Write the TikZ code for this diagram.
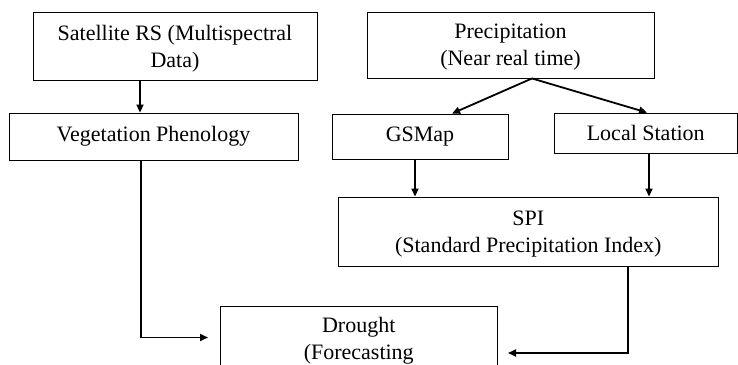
\documentclass[tikz,border=0pt]{standalone}
\usepackage{fontspec}
\setmainfont{Liberation Serif}
\usetikzlibrary{arrows.meta}

\tikzset{
  box/.style={draw=black, line width=0.9pt, align=center, inner sep=0pt,
    font=\fontsize{22}{27}\selectfont},
  twoline/.style={text depth=0pt},
  flow/.style={line width=1.8pt, -{Triangle[length=8pt,width=7pt]}},
}

\begin{document}
\begin{tikzpicture}[x=1pt, y=-1pt]
  % page frame
  \clip (0,0) rectangle (738,364);
  \fill[white] (0,0) rectangle (738,364);

  % left branch: remote sensing
  \node[box, twoline, minimum width=284pt, minimum height=68pt] (sat) at (175,46)
    {Satellite RS (Multispectral\\Data)};
  \node[box, minimum width=289pt, minimum height=47pt] (veg) at (153.5,136.5)
    {Vegetation Phenology};

  % right branch: precipitation
  \node[box, twoline, minimum width=287pt, minimum height=66pt] (pre) at (510.5,45)
    {Precipitation\\(Near real time)};
  \node[box, minimum width=176pt, minimum height=45.5pt] (gsm) at (420,136.75)
    {GSMap};
  \node[box, minimum width=183.5pt, minimum height=40.5pt] (loc) at (645.75,133.25)
    {Local Station};
  \node[box, twoline, minimum width=379.5pt, minimum height=69pt] (spi) at (528.25,231.5)
    {SPI\\(Standard Precipitation Index)};

  % result
  \node[box, twoline, minimum width=276.5pt, minimum height=64pt] (dro) at (358.75,338)
    {Drought\\(Forecasting};

  % arrow end points in front of the drought box
  \coordinate (dinL) at (208,337.5);
  \coordinate (dinR) at (508,353);

  % connectors
  \draw[flow] ([xshift=-35pt]sat.south) -- ([xshift=-35pt]sat.south |- veg.north);
  \draw[flow] ([xshift=-12.5pt]veg.south) |- (dinL);
  \draw[flow] ([xshift=21.5pt]pre.south) -- ([xshift=32pt]gsm.north);
  \draw[flow] ([xshift=21.5pt]pre.south) -- ([xshift=1.25pt]loc.north);
  \draw[flow] ([xshift=-5pt]gsm.south) -- ([xshift=-5pt]gsm.south |- spi.north);
  \draw[flow] ([xshift=3.25pt]loc.south) -- ([xshift=3.25pt]loc.south |- spi.north);
  \draw[flow] ([xshift=99.75pt]spi.south) |- (dinR);
\end{tikzpicture}
\end{document}
